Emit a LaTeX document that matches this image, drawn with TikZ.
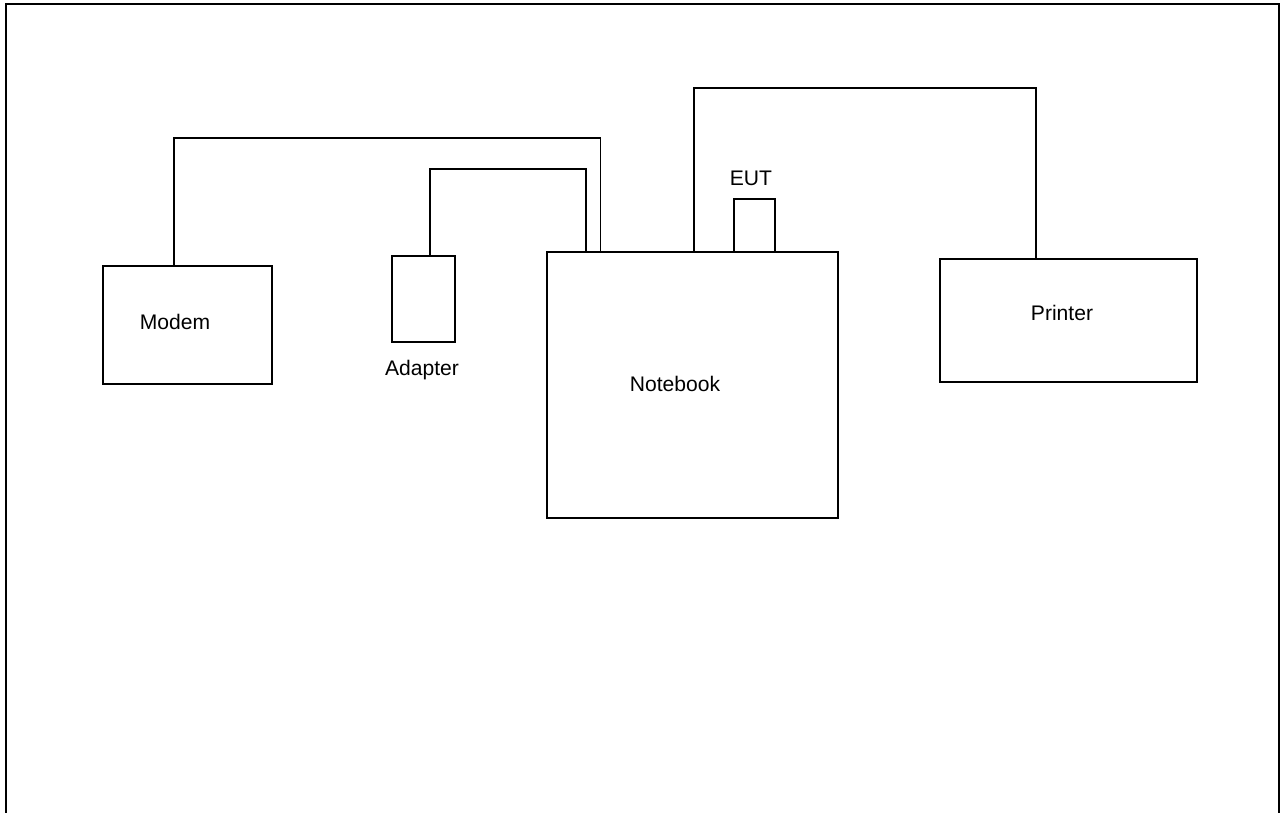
\documentclass[tikz,border=0pt]{standalone}
\usepackage{fontspec}
\setmainfont{Liberation Sans}
\usepackage{tikz}
\usetikzlibrary{calc, positioning}
\tikzstyle{box} = [rectangle, draw=black, line width=1.1pt, inner sep=0pt]
\tikzstyle{lbl} = [inner sep=0pt, font=\fontsize{12}{14}\selectfont]
\tikzstyle{wire} = [draw=black, line width=1.1pt]

\begin{document}
\begin{tikzpicture}[x=0.2mm, y=-0.2mm]
    \useasboundingbox (0,0) rectangle (1281,812);

    % Outer frame (open at the bottom)
    \draw[line width=1.2pt] (6,815) -- (6,4) -- (1279,4) -- (1279,815);

    % Devices
    \node[box, minimum width=33.8mm, minimum height=23.6mm] (modem) at (187.5,325) {};
    \node[box, minimum width=12.6mm, minimum height=17.2mm] (adapter) at (423.5,299) {};
    \node[box, minimum width=58.2mm, minimum height=53.2mm] (notebook) at (692.5,385) {};
    \node[box, minimum width=8.2mm, minimum height=10.6mm] (eut) at (754.5,225.5) {};
    \node[box, minimum width=51.4mm, minimum height=24.6mm] (printer) at (1068.5,320.5) {};

    % Labels
    \node[lbl] (modemtxt) at (175,322) {Modem};
    \node[lbl] (adaptertxt) at (422,370) {Adapter};
    \node[lbl] (notebooktxt) at (675,384) {Notebook};
    \node[lbl] (euttxt) at (751,178) {EUT};
    \node[lbl] (printertxt) at (1062,313) {Printer};

    % Cables
    \draw[wire] ($(modem.north west)!0.42!(modem.north east)$) -- ++(0,-127)
        -| ($(notebook.north west)!0.186!(notebook.north east)$);
    \draw[wire] ($(adapter.north west)!0.6!(adapter.north east)$) -- ++(0,-86)
        -| ($(notebook.north west)!0.137!(notebook.north east)$);
    \draw[wire] ($(notebook.north west)!0.505!(notebook.north east)$) -- ++(0,-163)
        -| ($(printer.north west)!0.374!(printer.north east)$);
\end{tikzpicture}
\end{document}
